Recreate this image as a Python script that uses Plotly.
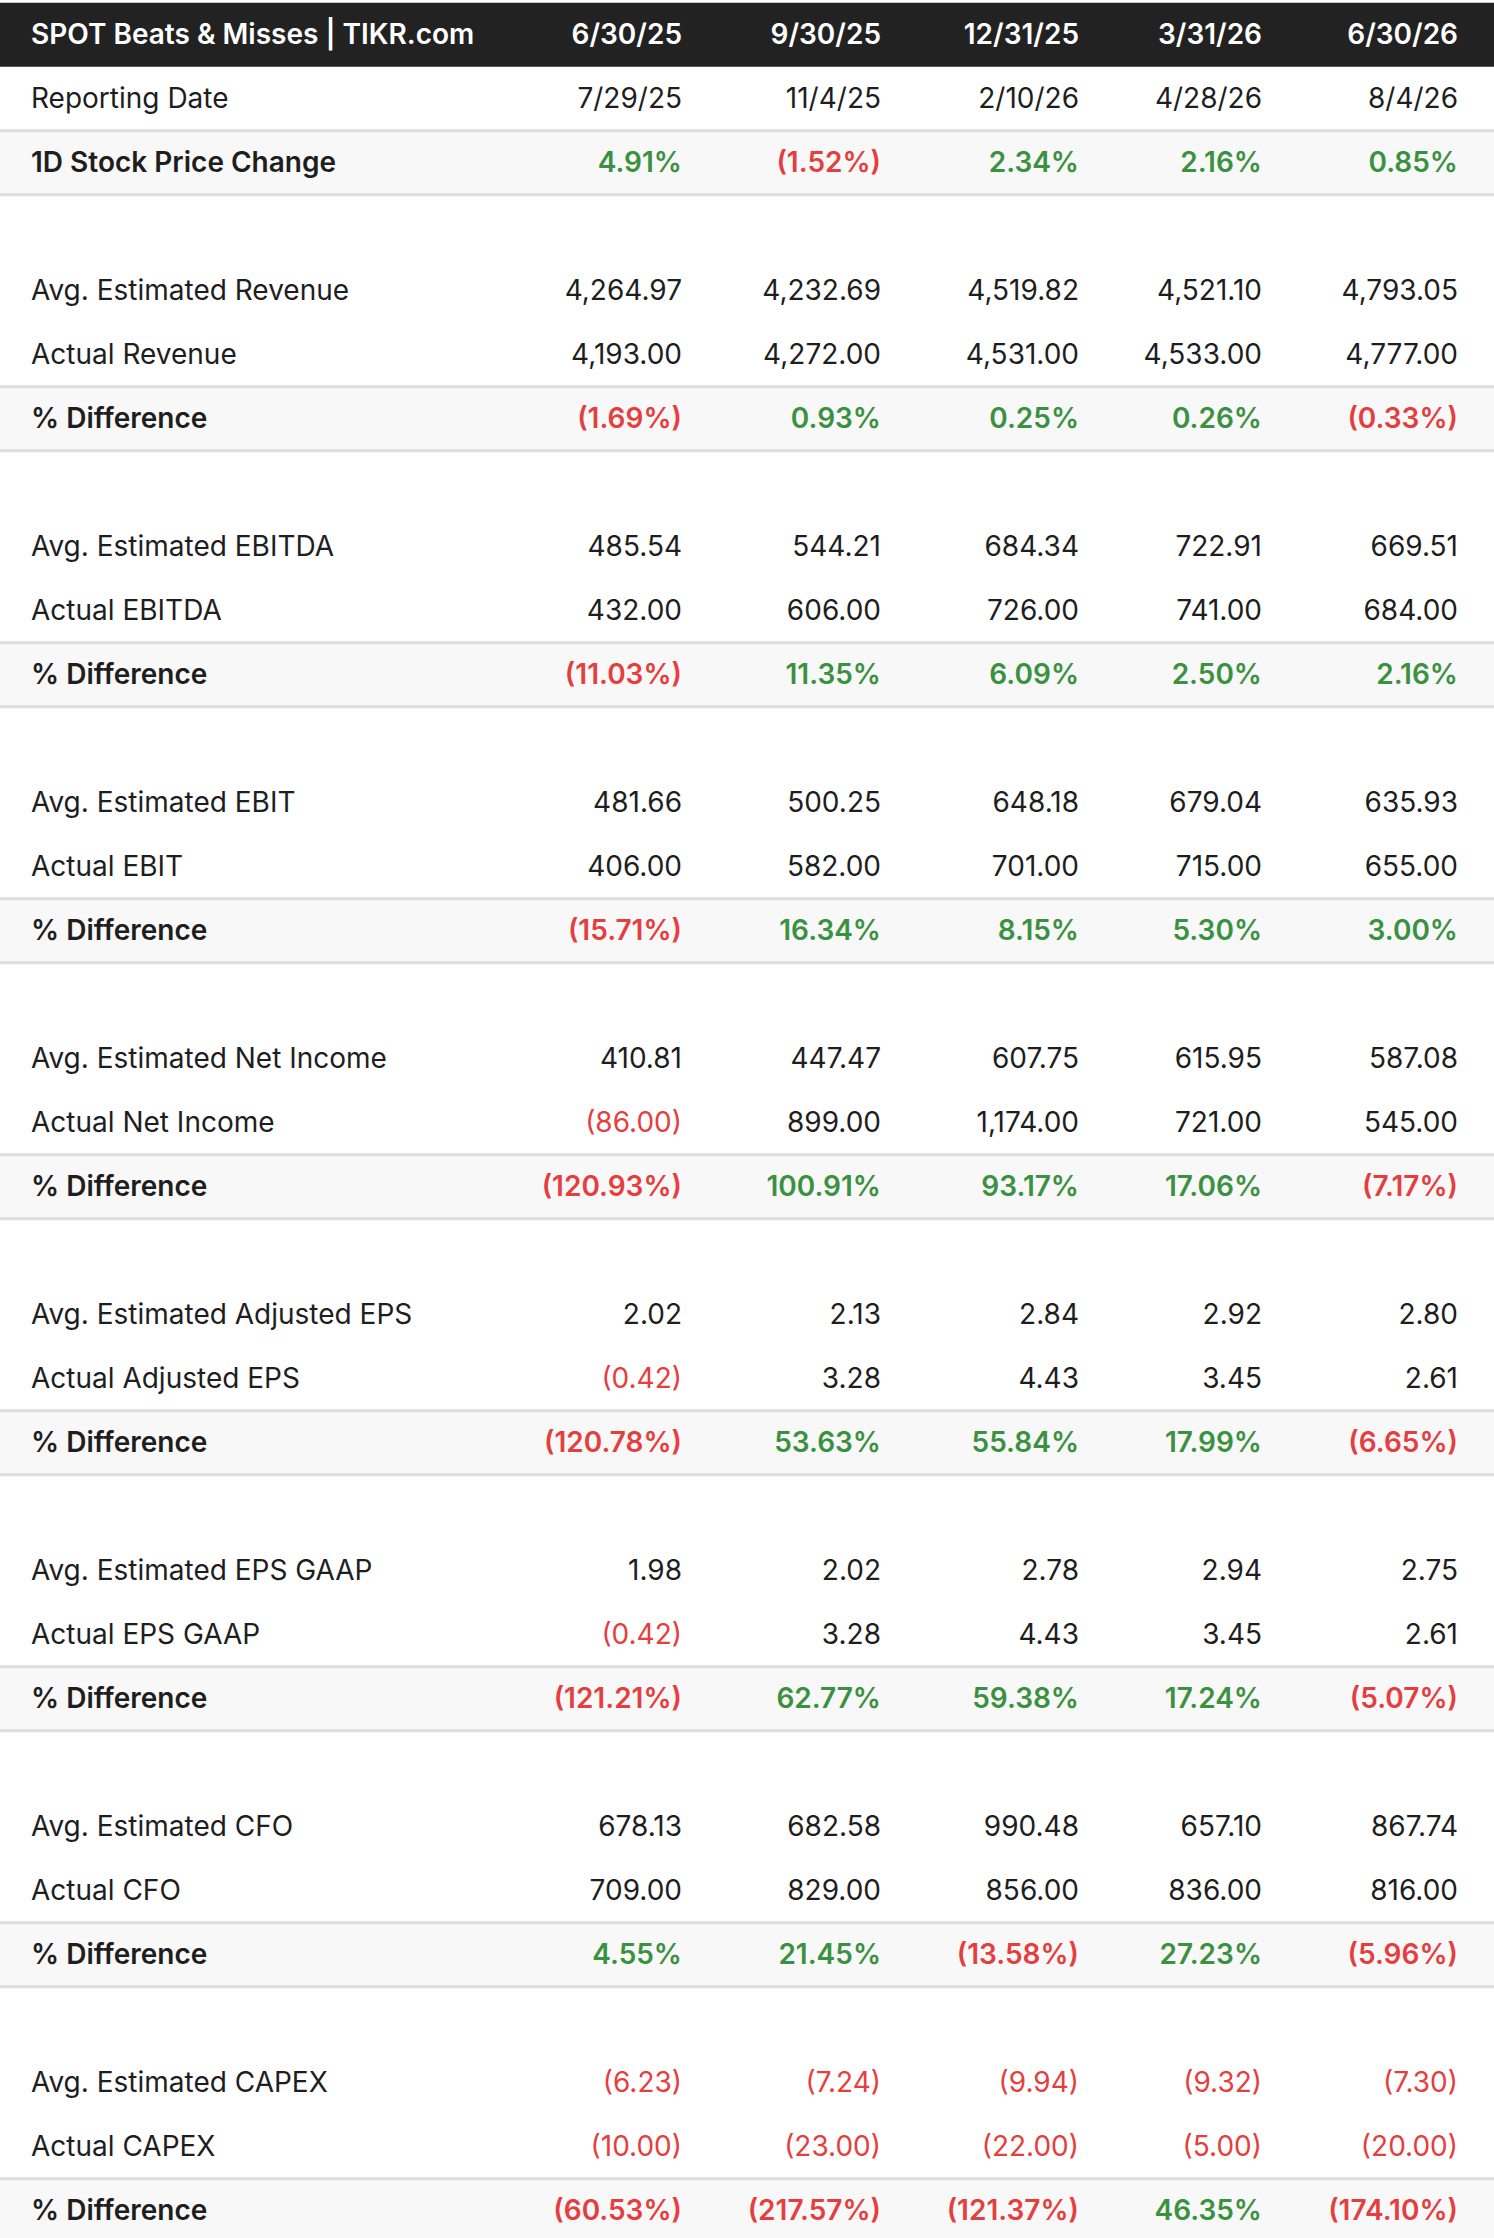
import plotly.graph_objects as go

title = "SPOT Beats & Misses | TIKR.com"
periods = ["6/30/25", "9/30/25", "12/31/25", "3/31/26", "6/30/26"]
report_dates = ["7/29/25", "11/4/25", "2/10/26", "4/28/26", "8/4/26"]
price_change = [4.91, -1.52, 2.34, 2.16, 0.85]

metrics = ["Revenue", "EBITDA", "EBIT", "Net Income", "Adjusted EPS", "EPS GAAP", "CFO", "CAPEX"]
estimates = {
    "Revenue": [4264.97, 4232.69, 4519.82, 4521.10, 4793.05],
    "EBITDA": [485.54, 544.21, 684.34, 722.91, 669.51],
    "EBIT": [481.66, 500.25, 648.18, 679.04, 635.93],
    "Net Income": [410.81, 447.47, 607.75, 615.95, 587.08],
    "Adjusted EPS": [2.02, 2.13, 2.84, 2.92, 2.80],
    "EPS GAAP": [1.98, 2.02, 2.78, 2.94, 2.75],
    "CFO": [678.13, 682.58, 990.48, 657.10, 867.74],
    "CAPEX": [-6.23, -7.24, -9.94, -9.32, -7.30],
}
actuals = {
    "Revenue": [4193.00, 4272.00, 4531.00, 4533.00, 4777.00],
    "EBITDA": [432.00, 606.00, 726.00, 741.00, 684.00],
    "EBIT": [406.00, 582.00, 701.00, 715.00, 655.00],
    "Net Income": [-86.00, 899.00, 1174.00, 721.00, 545.00],
    "Adjusted EPS": [-0.42, 3.28, 4.43, 3.45, 2.61],
    "EPS GAAP": [-0.42, 3.28, 4.43, 3.45, 2.61],
    "CFO": [709.00, 829.00, 856.00, 836.00, 816.00],
    "CAPEX": [-10.00, -23.00, -22.00, -5.00, -20.00],
}
pct_diff = {
    "Revenue": [-1.69, 0.93, 0.25, 0.26, -0.33],
    "EBITDA": [-11.03, 11.35, 6.09, 2.50, 2.16],
    "EBIT": [-15.71, 16.34, 8.15, 5.30, 3.00],
    "Net Income": [-120.93, 100.91, 93.17, 17.06, -7.17],
    "Adjusted EPS": [-120.78, 53.63, 55.84, 17.99, -6.65],
    "EPS GAAP": [-121.21, 62.77, 59.38, 17.24, -5.07],
    "CFO": [4.55, 21.45, -13.58, 27.23, -5.96],
    "CAPEX": [-60.53, -217.57, -121.37, 46.35, -174.10],
}

# layout constants (pixels)
W, H = 1494, 2238
ROW_PX = 64
TOP_PX = 2.7
TEXT_DY = 0.04  # text sits a touch below the row middle
col_right = [682, 881, 1079, 1262, 1458]
label_x = 31
FONT = "Inter"
FSIZE = 28
DARK = "#1e1e1e"
GREEN = "#3a9140"
RED = "#e53e3e"
GRAY_BG = "#f8f8f8"
LINE = "#dddddd"


def fmt_num(v):
    s = f"{abs(v):,.2f}"
    return f"({s})" if v < 0 else s


def fmt_pct(v):
    s = f"{abs(v):,.2f}%"
    return f"({s})" if v < 0 else s


# build rows: (label, values, kind)
rows = [("Reporting Date", report_dates, "date"),
        ("1D Stock Price Change", price_change, "pct")]
for m in metrics:
    rows.append((None, None, "blank"))
    rows.append((f"Avg. Estimated {m}", estimates[m], "num"))
    rows.append((f"Actual {m}", actuals[m], "num"))
    rows.append(("% Difference", pct_diff[m], "pct"))

groups = {}  # (weight, color, align) -> lists


def add(x, y, t, weight, color, pos):
    g = groups.setdefault((weight, color, pos), {"x": [], "y": [], "t": []})
    g["x"].append(x)
    g["y"].append(y + TEXT_DY)
    g["t"].append(t)


# header
add(label_x, 0.5, title, 600, "white", "middle right")
for j, p in enumerate(periods):
    add(col_right[j], 0.5, p, 600, "white", "middle left")

shapes = [dict(type="rect", xref="paper", yref="y", x0=0, x1=1, y0=0, y1=1,
               fillcolor="#222222", line_width=0, layer="below")]

for i, (label, vals, kind) in enumerate(rows):
    r = i + 1
    yc = r + 0.5
    if kind == "blank":
        continue
    bold = kind == "pct"
    if bold:
        shapes.append(dict(type="rect", xref="paper", yref="y", x0=0, x1=1, y0=r, y1=r + 1,
                           fillcolor=GRAY_BG, line_width=0, layer="below"))
        for yy in (r, r + 1):
            shapes.append(dict(type="line", xref="paper", yref="y", x0=0, x1=1, y0=yy, y1=yy,
                               line=dict(color=LINE, width=3), layer="below"))
    w = 600 if bold else 400
    add(label_x, yc, label, w, DARK, "middle right")
    for j, v in enumerate(vals):
        if kind == "date":
            add(col_right[j], yc, v, w, DARK, "middle left")
        elif kind == "pct":
            add(col_right[j], yc, fmt_pct(v), w, GREEN if v >= 0 else RED, "middle left")
        else:
            add(col_right[j], yc, fmt_num(v), w, RED if v < 0 else DARK, "middle left")

fig = go.Figure()
for (weight, color, pos), g in groups.items():
    fig.add_trace(go.Scatter(
        x=g["x"], y=g["y"], text=g["t"], mode="text", textposition=pos,
        textfont=dict(family=FONT, size=FSIZE, color=color, weight=weight),
        hoverinfo="skip", showlegend=False))

fig.update_layout(
    width=W, height=H, margin=dict(l=0, r=0, t=0, b=0),
    paper_bgcolor="white", plot_bgcolor="white",
    xaxis=dict(range=[0, W], visible=False, fixedrange=True),
    yaxis=dict(range=[(H - TOP_PX) / ROW_PX, -TOP_PX / ROW_PX], visible=False, fixedrange=True),
    shapes=shapes,
)
fig.write_html("out.html", config={"displayModeBar": False})

# drop the browser's default body margin so the table sits flush with the window
with open("out.html", encoding="utf-8") as f:
    html = f.read()
html = html.replace("<body>", '<body style="margin:0">', 1)
with open("out.html", "w", encoding="utf-8") as f:
    f.write(html)
